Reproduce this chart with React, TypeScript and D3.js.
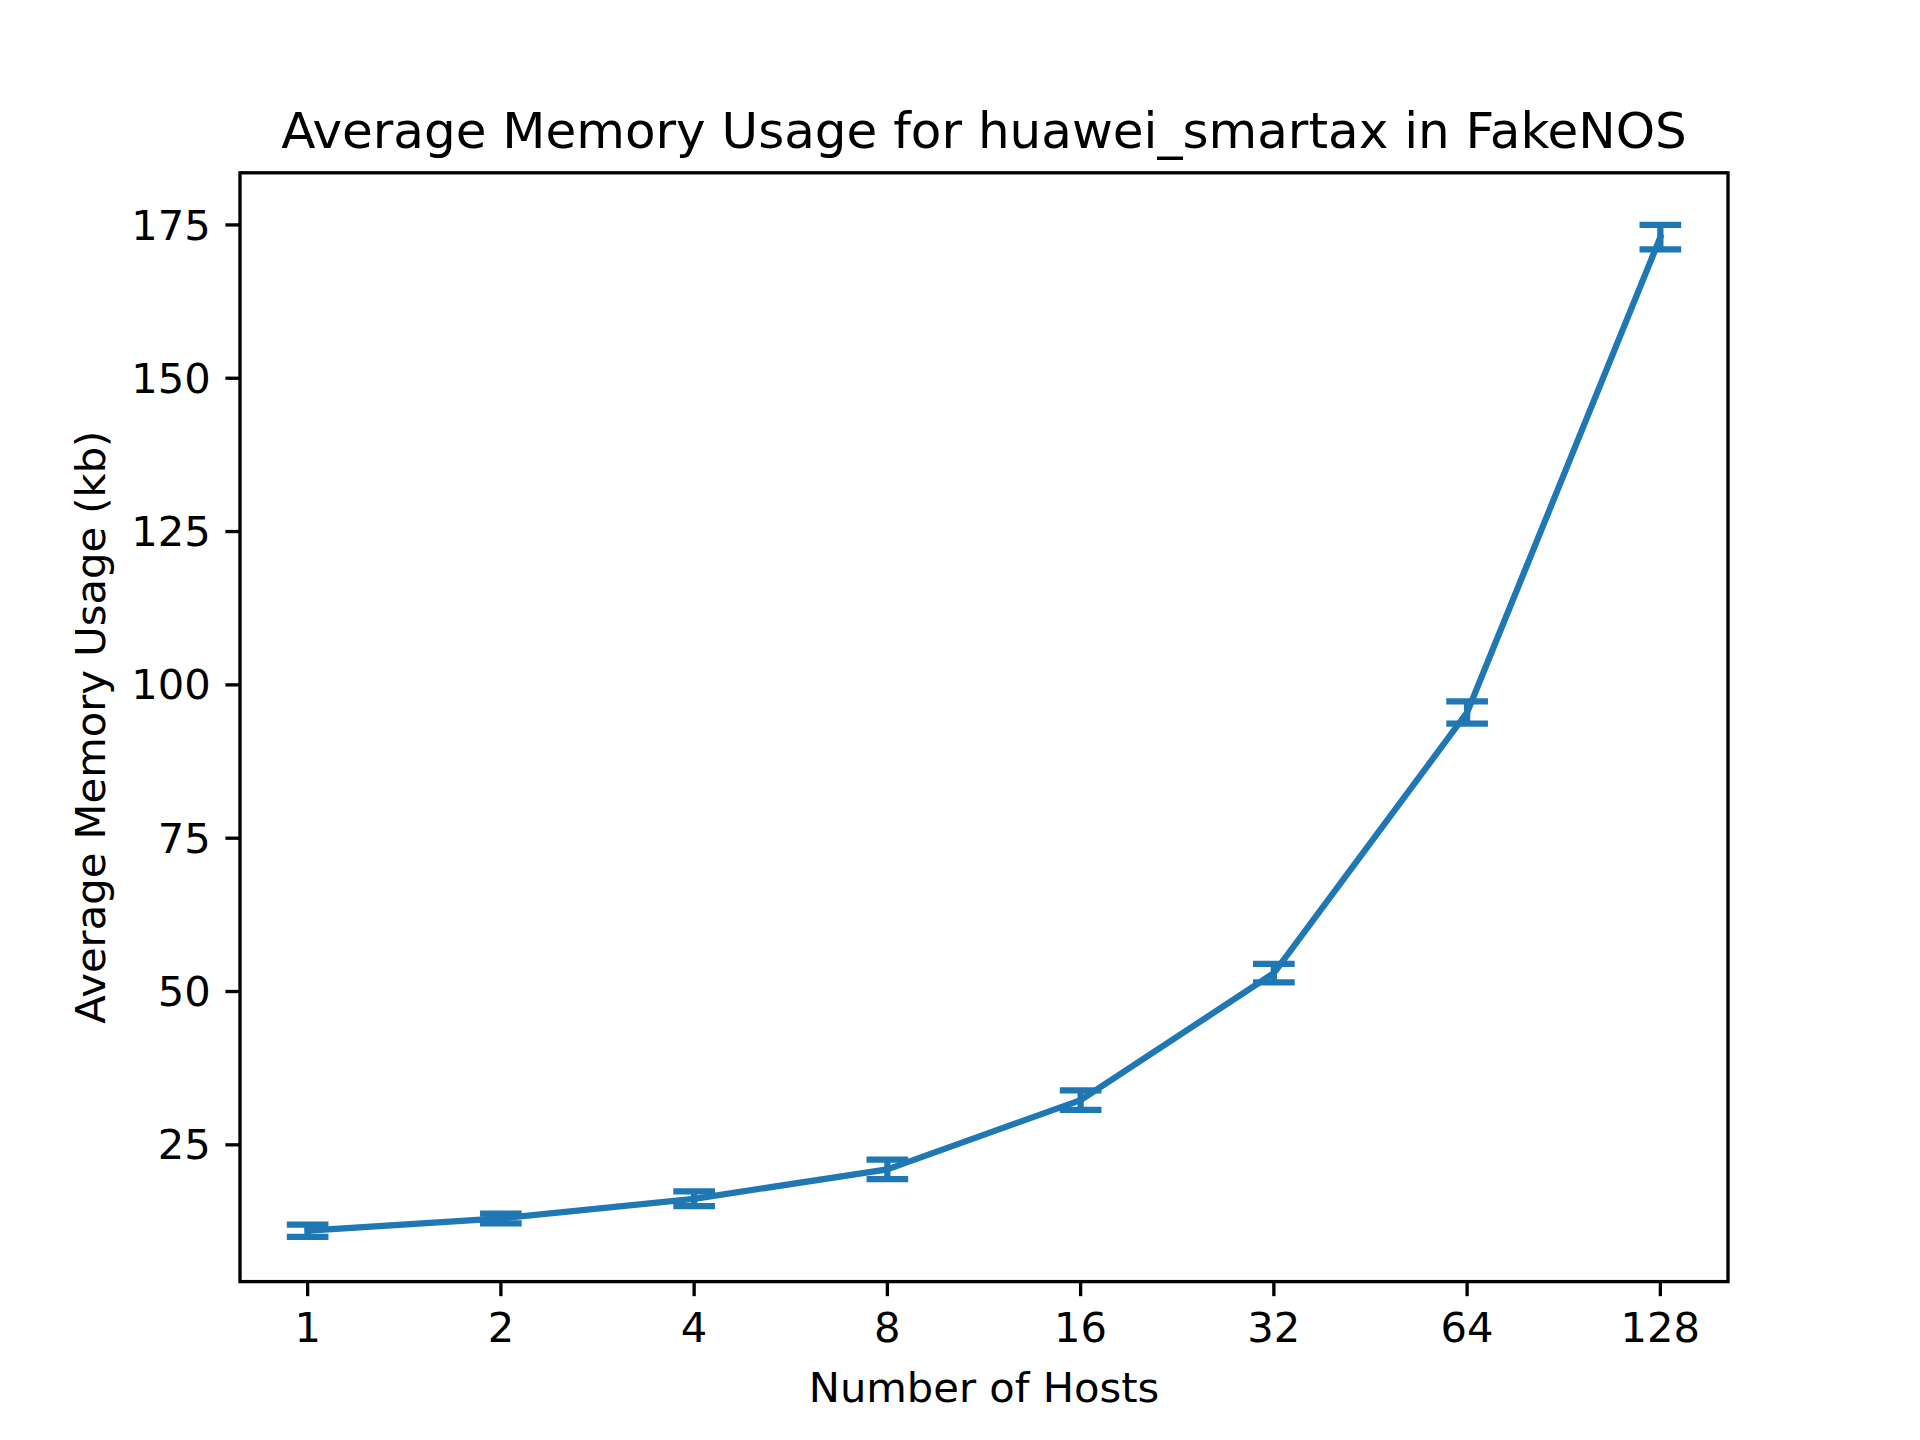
import React from 'react';
import * as d3 from 'd3';

const hosts = [1, 2, 4, 8, 16, 32, 64, 128];
const memory = [11.0, 13.0, 16.2, 21.0, 32.3, 53.0, 95.5, 173.0];
const errors = [1.0, 0.8, 1.2, 1.6, 1.6, 1.5, 1.8, 2.0];
const yTicks = [25, 50, 75, 100, 125, 150, 175];

const W = 1920;
const H = 1440;
const left = 240, right = 1728, top = 172.8, bottom = 1281.6;
const pt = 300 / 72;
const color = '#1f77b4';
const font = 'DejaVu Sans, sans-serif';

const App = () => {
  const x = d3.scaleLog().base(2).domain([Math.pow(2, -0.35), Math.pow(2, 7.35)]).range([left, right]);
  const y = d3.scaleLinear().domain([2.7, 183.5]).range([bottom, top]);
  const line = d3.line<number>().x((_, i) => x(hosts[i])).y(d => y(d));
  const cap = 5 * pt;
  const tick = 3.5 * pt;
  const fs = 10 * pt;

  return (
    <svg width={W} height={H} style={{ display: 'block', position: 'absolute', left: 0, top: 0, background: '#fff' }} fontFamily={font}>
      <rect width={W} height={H} fill="#fff" />
      {yTicks.map(t => (
        <g key={t}>
          <line x1={left - tick} x2={left} y1={y(t)} y2={y(t)} stroke="#000" strokeWidth={0.8 * pt} />
          <text x={left - tick - 3.5 * pt} y={y(t)} dy="0.35em" textAnchor="end" fontSize={fs}>{t}</text>
        </g>
      ))}
      {hosts.map(h => (
        <g key={h}>
          <line x1={x(h)} x2={x(h)} y1={bottom} y2={bottom + tick} stroke="#000" strokeWidth={0.8 * pt} />
          <text x={x(h)} y={bottom + tick + 3.5 * pt} dy="0.76em" textAnchor="middle" fontSize={fs}>{h}</text>
        </g>
      ))}
      {hosts.map((h, i) => (
        <g key={'e' + h} stroke={color} strokeWidth={1.5 * pt}>
          <line x1={x(h)} x2={x(h)} y1={y(memory[i] - errors[i])} y2={y(memory[i] + errors[i])} />
          <line x1={x(h) - cap} x2={x(h) + cap} y1={y(memory[i] - errors[i])} y2={y(memory[i] - errors[i])} />
          <line x1={x(h) - cap} x2={x(h) + cap} y1={y(memory[i] + errors[i])} y2={y(memory[i] + errors[i])} />
        </g>
      ))}
      <path d={line(memory) || ''} fill="none" stroke={color} strokeWidth={1.5 * pt} strokeLinejoin="round" strokeLinecap="square" />
      <rect x={left} y={top} width={right - left} height={bottom - top} fill="none" stroke="#000" strokeWidth={0.8 * pt} />
      <text x={(left + right) / 2} y={top - 6 * pt} textAnchor="middle" fontSize={12 * pt}>Average Memory Usage for huawei_smartax in FakeNOS</text>
      <text x={(left + right) / 2} y={1402} textAnchor="middle" fontSize={fs}>Number of Hosts</text>
      <text transform={`translate(105,${(top + bottom) / 2}) rotate(-90)`} textAnchor="middle" fontSize={fs}>Average Memory Usage (kb)</text>
    </svg>
  );
};

export default App;
